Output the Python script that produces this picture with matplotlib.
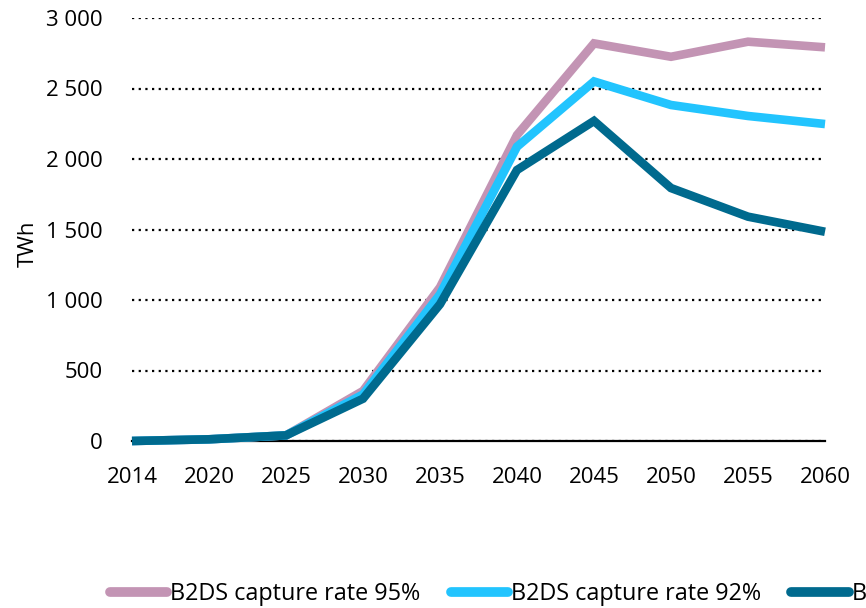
import matplotlib
matplotlib.use("Agg")
import matplotlib.pyplot as plt
from matplotlib.lines import Line2D
from matplotlib.ticker import FuncFormatter, MultipleLocator

years = ["2014", "2020", "2025", "2030", "2035", "2040", "2045", "2050", "2055", "2060"]
rate95 = [0, 12, 40, 355, 1090, 2170, 2820, 2725, 2832, 2792]
rate92 = [0, 12, 40, 330, 1040, 2087, 2550, 2383, 2305, 2248]
rate90 = [0, 12, 40, 300, 970, 1922, 2270, 1794, 1591, 1484]
labels = ["B2DS capture rate 95%", "B2DS capture rate 92%", "B2DS capture rate 90%"]
colors = ["#C394B4", "#22C4FE", "#006A8E"]

plt.rcParams['font.family'] = ['Open Sans', 'DejaVu Sans']
FS = 16
LFS = 16.8

W, H = 866, 608
fig = plt.figure(figsize=(W / 100, H / 100), dpi=100)
ax = fig.add_axes([132 / W, 1 - 441 / H, (825 - 132) / W, (441 - 18) / H])

x = list(range(len(years)))
for vals, col, lab in zip([rate95, rate92, rate90], colors, labels):
    ax.plot(x, vals, color=col, lw=6.2, solid_joinstyle='miter', solid_capstyle='butt', label=lab, clip_on=False)

ax.set_xlim(0, len(years) - 1)
ax.set_ylim(0, 3000)
ax.yaxis.set_major_locator(MultipleLocator(500))
ax.yaxis.set_major_formatter(FuncFormatter(lambda v, p: f"{int(v):,}".replace(",", " ")))
ax.set_xticks(x)
ax.set_xticklabels(years)
ax.tick_params(axis='both', length=0, labelsize=FS)
ax.tick_params(axis='y', pad=21)
ax.tick_params(axis='x', pad=19)
ax.grid(axis='y', color='black', linestyle=(0, (1, 2)), linewidth=1.6)
ax.set_axisbelow(True)
for s in ['top', 'right', 'left']:
    ax.spines[s].set_visible(False)
ax.spines['bottom'].set_linewidth(1.6)
ax.spines['bottom'].set_zorder(1)
fig.text(28 / W, 1 - 244 / H, "TWh", rotation=90, ha='center', va='center', fontsize=FS)

handles = [Line2D([], [], color=c, lw=7, solid_capstyle='round') for c in colors]
fig.legend(handles, labels, loc='center left', bbox_to_anchor=(110 / W, 1 - 594 / H), ncol=3,
           frameon=False, fontsize=LFS, handlelength=2.45, handletextpad=0.13, columnspacing=1.3,
           borderpad=0, borderaxespad=0)

fig.savefig("out.png", dpi=100)
